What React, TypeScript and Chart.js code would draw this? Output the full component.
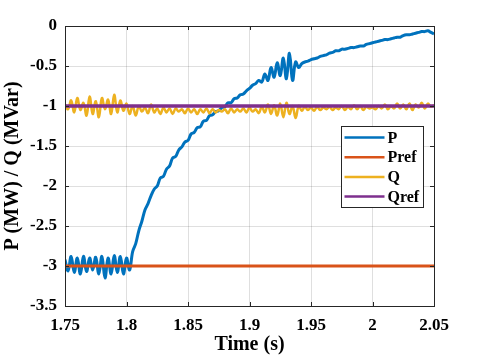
import React, { useEffect, useRef } from 'react';
import { Chart, registerables } from 'chart.js';

Chart.register(...registerables);

// sampling of the measured series (s)
const T_START = 1.75;
const T_STEP = 0.0025;

const pValues = [
  -2.92, -3.06, -2.88, -3.08, -2.9, -3.1, -2.88, -3.07, -2.9, -3.05,
  -2.89, -3.1, -2.88, -3.15, -2.9, -3.1, -2.87, -3.08, -2.88, -3.1,
  -2.9, -3.05, -2.82, -2.72, -2.56, -2.44, -2.3, -2.22, -2.12, -2.04,
  -2.0, -1.9, -1.88, -1.79, -1.75, -1.65, -1.63, -1.55, -1.51, -1.45,
  -1.43, -1.35, -1.33, -1.27, -1.26, -1.19, -1.18, -1.12, -1.11, -1.07,
  -1.06, -1.02, -1.01, -0.96, -0.96, -0.91, -0.9, -0.86, -0.85, -0.81,
  -0.78, -0.74, -0.72, -0.68, -0.7, -0.6, -0.68, -0.52, -0.64, -0.46,
  -0.62, -0.4, -0.66, -0.34, -0.68, -0.45, -0.52, -0.47, -0.45, -0.44,
  -0.42, -0.41, -0.4, -0.38, -0.37, -0.36, -0.34, -0.33, -0.31, -0.31,
  -0.29, -0.29, -0.28, -0.27, -0.27, -0.26, -0.25, -0.25, -0.23, -0.22,
  -0.21, -0.2, -0.19, -0.18, -0.17, -0.17, -0.16, -0.15, -0.14, -0.14,
  -0.12, -0.11, -0.11, -0.1, -0.09, -0.08, -0.07, -0.07, -0.06, -0.08,
  -0.1,
];

const qValues = [
  -0.98, -1.04, -0.93, -1.08, -0.9, -1.05, -0.96, -1.12, -0.88, -1.1,
  -0.94, -1.14, -0.9, -1.04, -0.92, -1.1, -0.86, -1.08, -0.93, -1.06,
  -0.97, -1.1, -1.0, -1.12, -1.0, -1.07, -1.02, -1.09, -0.98, -1.08,
  -1.03, -1.1, -1.02, -1.08, -1.03, -1.1, -1.03, -1.07, -1.04, -1.09,
  -1.03, -1.08, -1.04, -1.1, -1.04, -1.08, -1.03, -1.09, -1.04, -1.08,
  -1.05, -1.07, -1.04, -1.09, -1.03, -1.08, -1.04, -1.07, -1.03, -1.08,
  -1.02, -1.07, -1.04, -1.09, -1.01, -1.08, -0.98, -1.1, -0.99, -1.12,
  -0.97, -1.14, -0.96, -1.1, -1.0, -1.15, -1.0, -1.06, -1.01, -1.05,
  -1.02, -1.06, -1.01, -1.05, -1.02, -1.04, -1.01, -1.05, -1.02, -1.04,
  -1.0, -1.05, -1.01, -1.04, -0.99, -1.04, -1.0, -1.05, -1.01, -1.03,
  -1.02, -1.04, -1.0, -1.03, -0.98, -1.04, -1.0, -1.03, -0.97, -1.03,
  -0.98, -1.04, -0.97, -1.05, -0.98, -1.02, -0.96, -1.03, -0.97, -1.01,
  -0.99,
];

const refTimes = [1.75, 2.05];
const prefValues = [-3, -3];
const qrefValues = [-1, -1];

const xTickValues = [1.75, 1.8, 1.85, 1.9, 1.95, 2, 2.05];
const yTickValues = [-3.5, -3, -2.5, -2, -1.5, -1, -0.5, 0];

const seriesNames = ['P', 'Pref', 'Q', 'Qref'];
const seriesColors = ['#0072BD', '#D95319', '#EDB120', '#7E2F8E'];

const FONT = "'Liberation Serif', 'Times New Roman', serif";
const AXIS_COLOR = '#262626';

const framePlugin = {
  id: 'frame',
  afterDatasetsDraw(chart: any) {
    const { ctx, chartArea, scales } = chart;
    const { left, right, top, bottom } = chartArea;
    ctx.save();
    ctx.strokeStyle = AXIS_COLOR;
    ctx.lineWidth = 1;
    const tl = 4;
    ctx.beginPath();
    scales.x.ticks.forEach((t: any) => {
      const px = Math.round(scales.x.getPixelForValue(t.value)) + 0.5;
      ctx.moveTo(px, bottom);
      ctx.lineTo(px, bottom - tl);
      ctx.moveTo(px, top);
      ctx.lineTo(px, top + tl);
    });
    scales.y.ticks.forEach((t: any) => {
      const py = Math.round(scales.y.getPixelForValue(t.value)) + 0.5;
      ctx.moveTo(left, py);
      ctx.lineTo(left + tl, py);
      ctx.moveTo(right, py);
      ctx.lineTo(right - tl, py);
    });
    ctx.stroke();
    ctx.strokeRect(
      Math.round(left) + 0.5,
      Math.round(top) + 0.5,
      Math.round(right - left),
      Math.round(bottom - top)
    );

    // legend box
    const bx = 341.5, by = 126.5, bw = 82, bh = 81;
    ctx.fillStyle = '#ffffff';
    ctx.fillRect(bx, by, bw, bh);
    ctx.strokeStyle = AXIS_COLOR;
    ctx.strokeRect(bx, by, bw, bh);
    ctx.font = `bold 16px ${FONT}`;
    ctx.textBaseline = 'middle';
    ctx.textAlign = 'left';
    seriesNames.forEach((name, i) => {
      const y = by + 11 + i * 19.7;
      ctx.strokeStyle = seriesColors[i];
      ctx.lineWidth = 2.5;
      ctx.beginPath();
      ctx.moveTo(bx + 3, y);
      ctx.lineTo(bx + 43, y);
      ctx.stroke();
      ctx.fillStyle = '#000000';
      ctx.fillText(name, bx + 46, y + 1);
    });
    ctx.restore();
  },
};

export default function App() {
  const canvasRef = useRef<HTMLCanvasElement | null>(null);

  useEffect(() => {
    const canvas = canvasRef.current;
    if (!canvas) return;
    const pData = pValues.map((v, i) => ({ x: T_START + i * T_STEP, y: v }));
    const qData = qValues.map((v, i) => ({ x: T_START + i * T_STEP, y: v }));
    const prefData = refTimes.map((t, i) => ({ x: t, y: prefValues[i] }));
    const qrefData = refTimes.map((t, i) => ({ x: t, y: qrefValues[i] }));

    const chart = new Chart(canvas, {
      type: 'line',
      data: {
        datasets: [
          { label: seriesNames[0], data: pData, borderColor: seriesColors[0], borderWidth: 3, pointRadius: 0, tension: 0.4, order: 4 },
          { label: seriesNames[1], data: prefData, borderColor: seriesColors[1], borderWidth: 3, pointRadius: 0, order: 3 },
          { label: seriesNames[2], data: qData, borderColor: seriesColors[2], borderWidth: 2.5, pointRadius: 0, tension: 0.4, order: 2 },
          { label: seriesNames[3], data: qrefData, borderColor: seriesColors[3], borderWidth: 3.5, pointRadius: 0, order: 1 },
        ],
      },
      options: {
        responsive: false,
        animation: false,
        layout: { padding: { top: 26, right: 46, left: 0, bottom: 0 } },
        plugins: {
          legend: { display: false },
          tooltip: { enabled: false },
        },
        scales: {
          x: {
            type: 'linear',
            min: 1.75,
            max: 2.05,
            afterBuildTicks: (scale: any) => {
              scale.ticks = xTickValues.map((v) => ({ value: v }));
            },
            afterFit: (scale: any) => {
              scale.height = 54;
            },
            grid: { color: 'rgba(38,38,38,0.15)', drawTicks: false },
            border: { display: false },
            ticks: {
              color: '#000',
              padding: 9,
              maxRotation: 0,
              autoSkip: false,
              font: { family: FONT, size: 17, weight: 'bold' },
              callback: (v: any) => String(Number(Number(v).toFixed(2))),
            },
            title: {
              display: true,
              text: 'Time (s)',
              color: '#000',
              font: { family: FONT, size: 20, weight: 'bold' },
              padding: { top: 0, bottom: 3 },
            },
          },
          y: {
            type: 'linear',
            min: -3.5,
            max: 0,
            afterBuildTicks: (scale: any) => {
              scale.ticks = yTickValues.map((v) => ({ value: v }));
            },
            afterFit: (scale: any) => {
              scale.width = 65;
            },
            grid: { color: 'rgba(38,38,38,0.15)', drawTicks: false },
            border: { display: false },
            ticks: {
              color: '#000',
              padding: 8,
              autoSkip: false,
              font: { family: FONT, size: 17, weight: 'bold' },
              callback: (v: any) => String(Number(Number(v).toFixed(2))),
            },
            title: {
              display: true,
              text: 'P (MW) / Q (MVar)',
              color: '#000',
              font: { family: FONT, size: 20, weight: 'bold' },
              padding: { top: 1, bottom: 1 },
            },
          },
        },
      },
      plugins: [framePlugin],
    } as any);

    return () => {
      chart.destroy();
    };
  }, []);

  return (
    <div style={{ position: 'absolute', left: 0, top: 0, width: 480, height: 360, background: '#fff' }}>
      <canvas ref={canvasRef} width={480} height={360} style={{ display: 'block' }} />
    </div>
  );
}
